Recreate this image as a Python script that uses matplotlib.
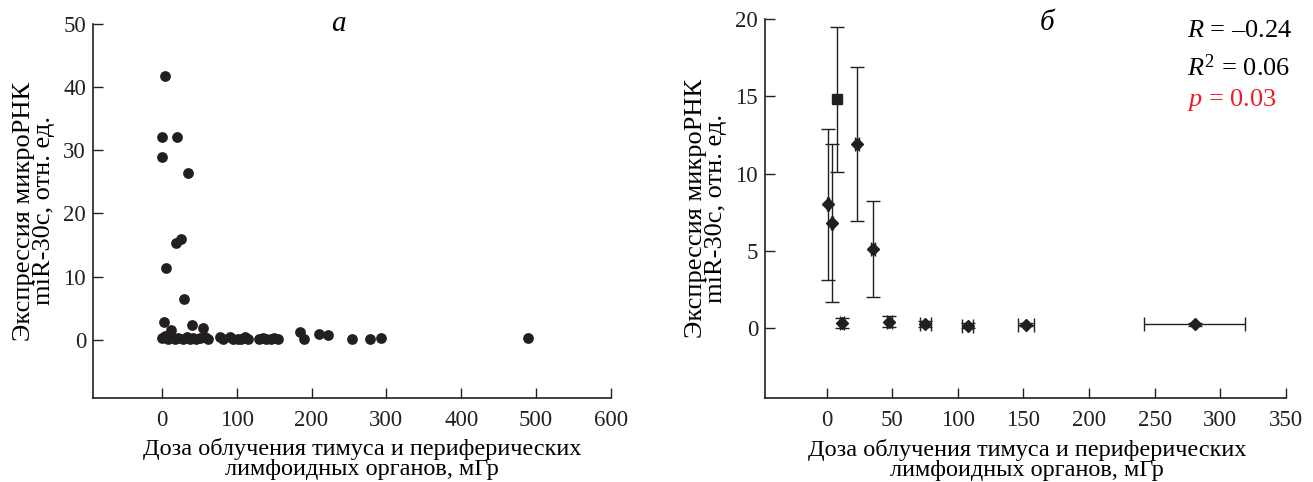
import matplotlib
matplotlib.use('Agg')
import matplotlib.pyplot as plt

plt.rcParams['font.family'] = ['Liberation Serif', 'DejaVu Serif']
plt.rcParams['mathtext.fontset'] = 'custom'
plt.rcParams['mathtext.rm'] = 'Liberation Serif'
plt.rcParams['mathtext.it'] = 'Liberation Serif:italic'

# panel a: individual doses vs expression
dose_a = [4.4, 0, 20.7, 0.9, 35.4, 19, 25.6, 5.3, 30, 3.1, 12.4, 40.6, 55.3,
          0, 4.4, 8.9, 13.3, 17.7, 22, 28.7, 33, 37.5, 42, 46.3, 50.7, 57.4, 61.8,
          77.3, 81.7, 90.5, 95, 101.6, 106, 110.5, 115, 130, 134.7, 139, 145.7,
          150, 154.6, 184.2, 190, 210, 222.5, 253.5, 278.7, 293.4, 489]
expr_a = [41.7, 32.1, 32.1, 29.0, 26.4, 15.4, 16.0, 11.3, 6.4, 2.9, 1.6, 2.3, 1.85,
          0.3, 0.6, 0.2, 0.5, 0.2, 0.3, 0.2, 0.4, 0.2, 0.3, 0.2, 0.3, 0.4, 0.2,
          0.4, 0.2, 0.5, 0.1, 0.2, 0.1, 0.4, 0.2, 0.2, 0.3, 0.2, 0.1,
          0.3, 0.1, 1.2, 0.2, 0.9, 0.8, 0.2, 0.2, 0.3, 0.3]

# panel b: group means with errors
dose_b = [1.0, 4.3, 11.6, 23.3, 35.5, 47.9, 75.0, 107.4, 151.8, 280.4]
dose_err_b = [0.8, 0.8, 1.5, 1.5, 1.5, 2.0, 4.2, 4.2, 6.3, 38.6]
expr_b = [8.0, 6.8, 0.32, 11.9, 5.1, 0.4, 0.28, 0.15, 0.2, 0.25]
expr_err_b = [4.9, 5.1, 0.35, 5.0, 3.1, 0.35, 0.2, 0.15, 0.1, 0.1]
sq_dose = [8.1]
sq_expr = [14.8]
sq_err = [4.7]

ink = '#231f20'
tick_fs = 16.5
label_fs = 17.5

fig = plt.figure(figsize=(13.13, 4.82), dpi=100)
ax1 = fig.add_axes([0.0708, 0.1743, 0.3945, 0.776])
ax2 = fig.add_axes([0.5826, 0.1743, 0.3968, 0.786])

ax1.scatter(dose_a, expr_a, s=60, color=ink, linewidths=0, zorder=3)
ax1.set_xlim(-92, 600)
ax1.set_ylim(-9.2, 50)
ax1.set_xticks(range(0, 601, 100))
ax1.set_yticks(range(0, 51, 10))
ax1.text(0.473, 1.0, 'а', transform=ax1.transAxes, fontsize=21, style='italic',
         ha='center', va='center')

ax2.errorbar(dose_b, expr_b, xerr=dose_err_b, yerr=expr_err_b, fmt='D', ms=6.5,
             color=ink, ecolor=ink, elinewidth=1, capsize=5, capthick=1)
ax2.errorbar(sq_dose, sq_expr, yerr=sq_err, fmt='s', ms=6.5,
             color=ink, ecolor=ink, elinewidth=1, capsize=5, capthick=1)
ax2.set_xlim(-47, 350)
ax2.set_ylim(-4.53, 20)
ax2.set_xticks(range(0, 351, 50))
ax2.set_yticks(range(0, 21, 5))
ax2.text(0.541, 0.99, 'б', transform=ax2.transAxes, fontsize=21, style='italic',
         ha='center', va='center')
ax2.text(0.81, 0.968, '$R$ = –0.24', transform=ax2.transAxes, fontsize=19,
         ha='left', va='center')
ax2.text(0.81, 0.872, '$R^2$ = 0.06', transform=ax2.transAxes, fontsize=19,
         ha='left', va='center')
ax2.text(0.81, 0.786, '$p$ = 0.03', transform=ax2.transAxes, fontsize=19,
         ha='left', va='center', color='#ed1c24')

for ax in (ax1, ax2):
    for side in ('top', 'right'):
        ax.spines[side].set_visible(False)
    for side in ('left', 'bottom'):
        ax.spines[side].set_color(ink)
        ax.spines[side].set_linewidth(1.2)
    ax.tick_params(direction='in', length=7, width=1, colors=ink,
                   labelsize=tick_fs)
    ax.tick_params(axis='x', pad=9)
    ax.tick_params(axis='y', pad=5)
    ax.set_xlabel('Доза облучения тимуса и периферических\nлимфоидных органов, мГр',
                  fontsize=label_fs, linespacing=0.92)
    ax.set_ylabel('Экспрессия микроРНК\nmiR-30c, отн. ед.', fontsize=19,
                  linespacing=0.9, labelpad=6)

ax1.xaxis.set_label_coords(0.52, -0.108)
ax2.xaxis.set_label_coords(0.503, -0.108)

fig.savefig('out.png', dpi=100)
